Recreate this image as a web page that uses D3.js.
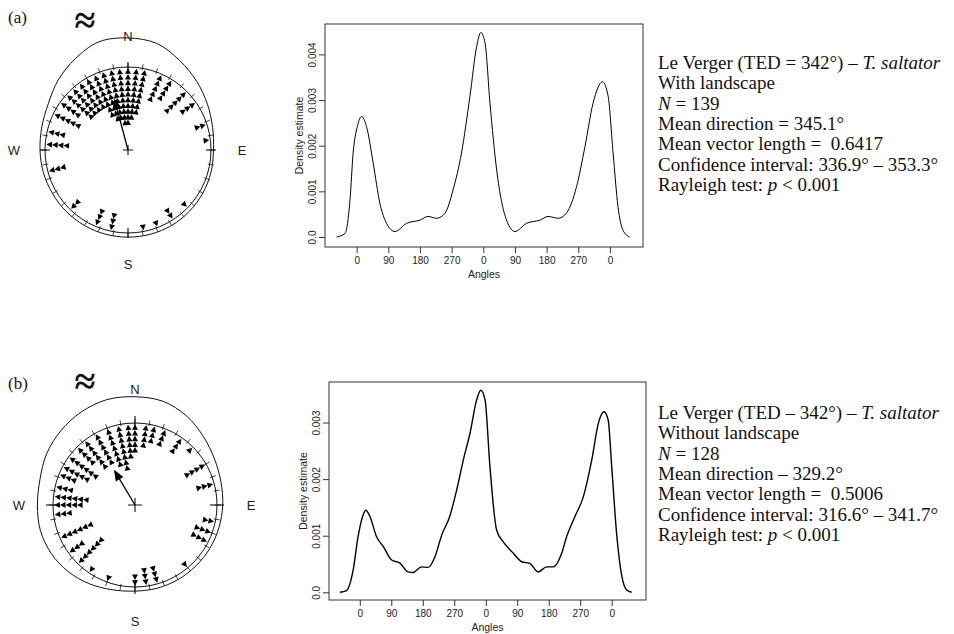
<!DOCTYPE html>
<html>
<head>
<meta charset="utf-8">
<script src="https://cdn.jsdelivr.net/npm/d3@7"></script>
<style>
  body { margin: 0; background: #fff; }
  svg { display: block; }
</style>
</head>
<body>
<svg id="fig" width="954" height="634"></svg>
<script>
// ---------- Panel (a): with landscape ----------
// stacked headings: bin direction (deg, clockwise from N) and number of animals
const binAnglesA = [305, 312, 318, 324, 330, 336, 342, 348, 354, 0, 6, 12,
                    24, 32, 45, 55, 72, 83,
                    134, 147, 159, 169, 192, 203, 224, 255,
                    274, 283, 296];
const binCountsA = [4, 6, 6, 6, 6, 8, 9, 9, 10, 10, 9, 8,
                    5, 4, 5, 3, 2, 1,
                    1, 2, 1, 1, 3, 3, 2, 3,
                    4, 3, 5];
// circular density outline around the rose (radius relative to the circle)
const ringAnglesA = [0, 15, 30, 45, 60, 75, 90, 105, 120, 135, 150, 165, 180,
                     195, 210, 225, 240, 255, 270, 285, 300, 315, 330, 345];
const ringA = [1.35, 1.33, 1.245, 1.17, 1.105, 1.055, 1.03, 1.035, 1.04, 1.045, 1.05, 1.05, 1.05,
               1.05, 1.05, 1.05, 1.05, 1.055, 1.06, 1.075, 1.11, 1.19, 1.27, 1.35];
// linear density estimate
const densAnglesA = [-57, -33, -19, -10, 2, 14, 28, 47, 66, 85,
                     109, 142, 180, 203, 227, 251, 274, 298, 322, 341,
                     353, 365, 379, 398, 426, 450, 483, 521, 544, 573,
                     597, 625, 649, 672, 699, 715, 729, 743, 757, 776];
const densA = [0, 0.00008, 0.00081, 0.00184, 0.00242, 0.00264, 0.00242, 0.00162, 0.00074, 0.00030,
               0.00012, 0.00030, 0.00037, 0.00045, 0.00041, 0.00052, 0.00103, 0.00184, 0.00308, 0.00417,
               0.00448, 0.00425, 0.00293, 0.00147, 0.00037, 0.00012, 0.00030, 0.00037, 0.00045, 0.00041,
               0.00053, 0.00110, 0.00198, 0.00293, 0.00340, 0.00308, 0.00184, 0.00066, 0.00015, 0];
const yTicksA = [0, 0.001, 0.002, 0.003, 0.004];
const meanDirA = 345.1, meanLenA = 0.6417;
const statsA = [
  [["Le Verger (TED = 342°) – ", 0], ["T. saltator", 1]],
  [["With landscape", 0]],
  [["N", 1], [" = 139", 0]],
  [["Mean direction = 345.1°", 0]],
  [["Mean vector length =  0.6417", 0]],
  [["Confidence interval: 336.9° – 353.3°", 0]],
  [["Rayleigh test: ", 0], ["p", 1], [" < 0.001", 0]]
];

// ---------- Panel (b): without landscape ----------
const binAnglesB = [0, 8, 14, 22, 35, 45, 60, 75, 102, 110, 117, 140,
                    164, 172, 180, 200, 214, 224, 234, 246, 263, 270, 276, 283,
                    292, 298, 306, 315, 322, 331, 340, 348, 355];
const binCountsB = [5, 4, 3, 3, 3, 1, 4, 3, 2, 3, 3, 1,
                    3, 3, 2, 1, 1, 6, 3, 6, 3, 5, 6, 3,
                    3, 5, 6, 4, 6, 6, 7, 8, 6];
const ringAnglesB = ringAnglesA;
const ringB = [1.32, 1.31, 1.255, 1.18, 1.12, 1.085, 1.07, 1.06, 1.055, 1.05, 1.05, 1.05, 1.05,
               1.07, 1.11, 1.15, 1.18, 1.195, 1.19, 1.2, 1.245, 1.28, 1.31, 1.33];
const densAnglesB = [-57, -38, -19, -5, 8, 17, 29, 48, 67, 91,
                     114, 138, 152, 176, 195, 215, 234, 257, 277, 296,
                     315, 334, 346, 358, 372, 391, 410, 439, 463, 486,
                     510, 534, 553, 577, 591, 615, 639, 663, 682, 698,
                     710, 720, 734, 749, 763, 777];
const densB = [0, 0.00003, 0.00039, 0.00098, 0.00134, 0.00145, 0.00134, 0.00098, 0.00081, 0.00057,
               0.00052, 0.00036, 0.00035, 0.00045, 0.00044, 0.00063, 0.00101, 0.00134, 0.00181, 0.00234,
               0.00281, 0.00340, 0.00357, 0.00340, 0.00222, 0.00110, 0.00089, 0.00069, 0.00054, 0.00051,
               0.00036, 0.00045, 0.00045, 0.00069, 0.00098, 0.00134, 0.00169, 0.00234, 0.00299, 0.00319,
               0.00304, 0.00222, 0.00104, 0.00028, 0.00004, 0];
const yTicksB = [0, 0.001, 0.002, 0.003];
const meanDirB = 329.2, meanLenB = 0.5006;
const statsB = [
  [["Le Verger (TED – 342°) – ", 0], ["T. saltator", 1]],
  [["Without landscape", 0]],
  [["N", 1], [" = 128", 0]],
  [["Mean direction – 329.2°", 0]],
  [["Mean vector length =  0.5006", 0]],
  [["Confidence interval: 316.6° – 341.7°", 0]],
  [["Rayleigh test: ", 0], ["p", 1], [" < 0.001", 0]]
];

const xTicks = [0, 90, 180, 270, 360, 450, 540, 630, 720];
const cardinals = [["N", 0], ["E", 90], ["S", 180], ["W", 270]];

const svg = d3.select("#fig");
const SANS = "'Liberation Sans', Arial, sans-serif";
const SERIF = "'Liberation Serif', 'Times New Roman', serif";
const rad = d => d * Math.PI / 180;

// ---------- circular rose with stacked headings ----------
function rose(cfg, angles, counts, ringAngles, ring, meanDir, meanLen) {
  const g = svg.append("g").attr("transform", `translate(${cfg.cx},${cfg.cy})`);
  const r = d3.scaleLinear().domain([0, 1]).range([0, cfg.R]);

  // density outline
  const outline = d3.lineRadial()
    .angle(d => rad(d[0]))
    .radius(d => r(d[1]))
    .curve(d3.curveCatmullRomClosed.alpha(0.5));
  g.append("path")
    .attr("d", outline(ringAngles.map((a, i) => [a, ring[i]])))
    .attr("fill", "none").attr("stroke", "#111").attr("stroke-width", 1);

  // base circle
  g.append("circle").attr("r", r(1)).attr("fill", "none")
    .attr("stroke", "#111").attr("stroke-width", 1);

  // ticks every 10 degrees
  g.selectAll("line.tk").data(d3.range(0, 360, 10)).join("line")
    .attr("x1", d => (cfg.R - 2) * Math.sin(rad(d)))
    .attr("y1", d => -(cfg.R - 2) * Math.cos(rad(d)))
    .attr("x2", d => (cfg.R + 4) * Math.sin(rad(d)))
    .attr("y2", d => -(cfg.R + 4) * Math.cos(rad(d)))
    .attr("stroke", "#111").attr("stroke-width", 0.8);

  // cardinal crosses
  g.selectAll("line.card").data(cardinals).join("line")
    .attr("x1", d => (cfg.R - cfg.cross) * Math.sin(rad(d[1])))
    .attr("y1", d => -(cfg.R - cfg.cross) * Math.cos(rad(d[1])))
    .attr("x2", d => (cfg.R + cfg.cross) * Math.sin(rad(d[1])))
    .attr("y2", d => -(cfg.R + cfg.cross) * Math.cos(rad(d[1])))
    .attr("stroke", "#111").attr("stroke-width", 1.1);

  // centre cross
  g.append("path")
    .attr("d", `M${-cfg.plus},0H${cfg.plus}M0,${-cfg.plus}V${cfg.plus}`)
    .attr("stroke", "#111").attr("stroke-width", 1.1);

  // cardinal letters
  g.selectAll("text.card").data(cardinals).join("text")
    .attr("x", d => cfg.labR * Math.sin(rad(d[1])))
    .attr("y", d => -cfg.labR * Math.cos(rad(d[1])))
    .attr("dy", "0.36em")
    .attr("text-anchor", "middle")
    .attr("font-family", SANS).attr("font-size", 13).attr("fill", "#222")
    .text(d => d[0]);

  // stacked triangles, each pointing outward
  const pts = [];
  angles.forEach((a, i) => {
    for (let k = 0; k < counts[i]; k++) pts.push({ a, rr: cfg.R - 4.5 - k * 5.7 });
  });
  g.selectAll("path.pt").data(pts).join("path")
    .attr("transform", d => `translate(${d.rr * Math.sin(rad(d.a))},${-d.rr * Math.cos(rad(d.a))}) rotate(${d.a})`)
    .attr("d", "M0,-3.3L3,2.3L-3,2.3Z")
    .attr("fill", "#000");

  // mean vector with arrowhead
  const L = r(meanLen);
  const arrow = g.append("g").attr("transform", `rotate(${meanDir})`);
  arrow.append("line").attr("x1", 0).attr("y1", 0).attr("x2", 0).attr("y2", -L + 6)
    .attr("stroke", "#000").attr("stroke-width", 1.3);
  arrow.append("path").attr("d", `M0,${-L}L4.5,${-L + 11}L-4.5,${-L + 11}Z`).attr("fill", "#000");

  // panel letter and sea sign
  svg.append("text").attr("x", 8).attr("y", cfg.letterY)
    .attr("font-family", SERIF).attr("font-size", 17).attr("fill", "#111").text(cfg.letter);
  svg.append("text").attr("x", 85).attr("y", cfg.waveY).attr("text-anchor", "middle")
    .attr("font-family", SERIF).attr("font-size", 38).attr("font-weight", "bold")
    .attr("fill", "#111").text("≈");
}

// ---------- linear density estimate ----------
function densityPlot(cfg, angles, dens, yTicks) {
  const x = d3.scaleLinear().domain(cfg.xDom).range([cfg.left, cfg.right]);
  const y = d3.scaleLinear().domain(cfg.yDom).range([cfg.bottom, cfg.top]);
  const g = svg.append("g");

  g.append("rect").attr("x", cfg.left).attr("y", cfg.top)
    .attr("width", cfg.right - cfg.left).attr("height", cfg.bottom - cfg.top)
    .attr("fill", "none").attr("stroke", "#333").attr("stroke-width", 1);

  const ax = g.append("g").attr("transform", `translate(0,${cfg.bottom})`)
    .call(d3.axisBottom(x).tickValues(xTicks).tickFormat(d => d % 360).tickSize(6).tickSizeOuter(0));
  ax.select(".domain").remove();
  ax.selectAll("line").attr("stroke", "#333");
  ax.selectAll("text").attr("font-family", SANS).attr("font-size", 10).attr("fill", "#222").attr("y", 10);

  const ay = g.append("g").attr("transform", `translate(${cfg.left},0)`)
    .call(d3.axisLeft(y).tickValues(yTicks).tickFormat(d => d === 0 ? "0.0" : d3.format(".3f")(d)).tickSize(6).tickSizeOuter(0));
  ay.select(".domain").remove();
  ay.selectAll("line").attr("stroke", "#333");
  ay.selectAll("text")
    .attr("transform", "rotate(-90)").attr("x", 0).attr("y", -9).attr("dy", 0)
    .attr("text-anchor", "middle")
    .attr("font-family", SANS).attr("font-size", 10).attr("fill", "#222");

  g.append("text").attr("transform", `translate(${cfg.left - 22},${(cfg.top + cfg.bottom) / 2}) rotate(-90)`)
    .attr("text-anchor", "middle").attr("font-family", SANS).attr("font-size", 10.5).attr("fill", "#222")
    .text("Density estimate");
  g.append("text").attr("x", (cfg.left + cfg.right) / 2).attr("y", cfg.bottom + 31)
    .attr("text-anchor", "middle").attr("font-family", SANS).attr("font-size", 10.5).attr("fill", "#222")
    .text("Angles");

  const line = d3.line().x(d => x(d[0])).y(d => y(d[1])).curve(d3.curveMonotoneX);
  g.append("path").attr("d", line(angles.map((a, i) => [a, dens[i]])))
    .attr("fill", "none").attr("stroke", "#000").attr("stroke-width", cfg.lw);
}

// ---------- statistics text ----------
function stats(lines, x, y0, dy) {
  const t = svg.append("text").attr("font-family", SERIF).attr("font-size", 19).attr("fill", "#111")
    .attr("xml:space", "preserve");
  lines.forEach((segs, i) => {
    segs.forEach((s, j) => {
      const ts = t.append("tspan").text(s[0]).attr("font-style", s[1] ? "italic" : "normal");
      if (j === 0) ts.attr("x", x).attr("y", y0 + i * dy);
    });
  });
}

rose({ cx: 128, cy: 150, R: 83, cross: 5, plus: 5, labR: 114, letter: "(a)", letterY: 23, waveY: 33 },
     binAnglesA, binCountsA, ringAnglesA, ringA, meanDirA, meanLenA);
rose({ cx: 135, cy: 505, R: 82, cross: 7, plus: 7, labR: 116, letter: "(b)", letterY: 389, waveY: 394 },
     binAnglesB, binCountsB, ringAnglesB, ringB, meanDirB, meanLenB);

densityPlot({ left: 325, right: 643, top: 24, bottom: 247, xDom: [-90, 814], yDom: [-0.000219, 0.004666], lw: 1 },
            densAnglesA, densA, yTicksA);
densityPlot({ left: 329, right: 646, top: 382, bottom: 600, xDom: [-88, 818], yDom: [-0.000136, 0.003716], lw: 1.4 },
            densAnglesB, densB, yTicksB);

stats(statsA, 658, 69, 20.3);
stats(statsB, 658, 419, 20.3);
</script>
</body>
</html>
